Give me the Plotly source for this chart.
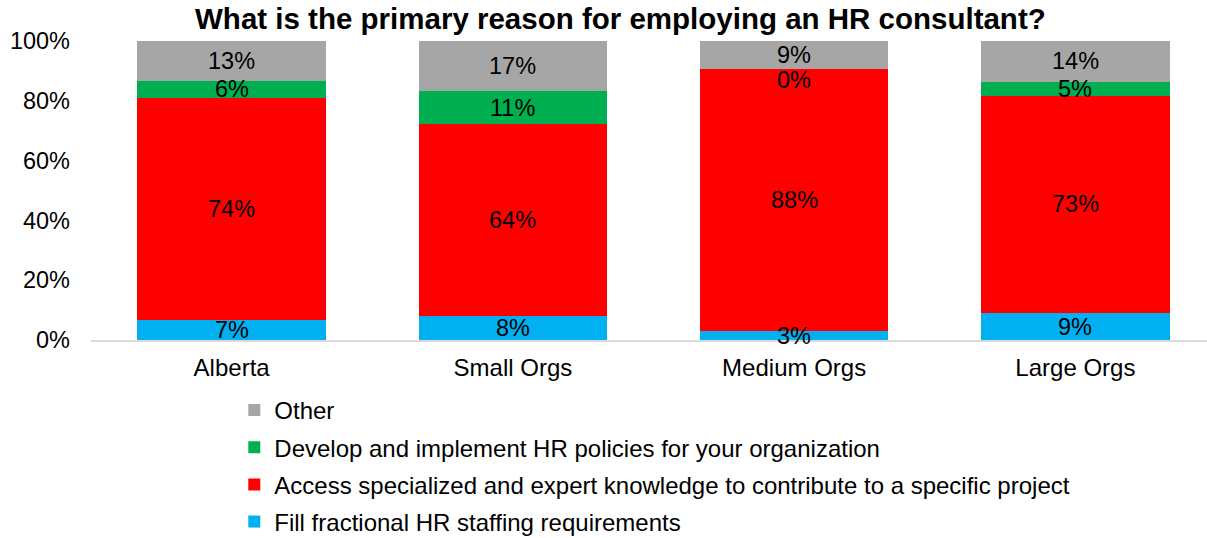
import plotly.graph_objects as go

categories = ["Alberta", "Small Orgs", "Medium Orgs", "Large Orgs"]

# Share of respondents per reason (fractions of 1), stacked bottom to top
fill_fractional = [0.066, 0.081, 0.030, 0.090]
access_expert = [0.744, 0.641, 0.876, 0.727]
develop_policies = [0.056, 0.111, 0.000, 0.047]
other = [0.134, 0.167, 0.094, 0.136]

series_names = [
    "Fill fractional HR staffing requirements",
    "Access specialized and expert knowledge to contribute to a specific project",
    "Develop and implement HR policies for your organization",
    "Other",
]
series_values = [fill_fractional, access_expert, develop_policies, other]
series_colors = ["#00B0F0", "#FF0000", "#00B050", "#A6A6A6"]

y_ticks = [0, 0.2, 0.4, 0.6, 0.8, 1.0]
y_tick_labels = ["0%", "20%", "40%", "60%", "80%", "100%"]

FONT = "Liberation Sans, Arial, sans-serif"

fig = go.Figure()
n_series = len(series_names)
for idx, (name, vals, color) in enumerate(zip(series_names, series_values, series_colors)):
    fig.add_trace(go.Bar(
        x=categories,
        y=vals,
        name=name,
        legendgroup=f"g{idx}",
        legendrank=n_series - idx,  # top of stack listed first
        marker=dict(color=color, line=dict(width=0)),
    ))

# Segment labels centred in each stacked segment
annotations = []
base = [0.0] * len(categories)
for vals in series_values:
    for i, (cat, v) in enumerate(zip(categories, vals)):
        annotations.append(dict(
            x=cat, y=base[i] + v / 2, xref="x", yref="y",
            text=f"{round(v * 100)}%", showarrow=False,
            font=dict(family=FONT, size=23.5, color="#000000"),
            yshift=-11 if v == 0 else 0,
        ))
        base[i] += v

fig.update_layout(
    width=1207, height=538,
    margin=dict(l=91, r=0, t=41, b=198),
    paper_bgcolor="white", plot_bgcolor="white",
    barmode="stack", bargap=0.33,
    title=dict(
        text="<b>What is the primary reason for employing an HR consultant?</b>",
        x=0.514, xanchor="center", y=0.966, yanchor="middle",
        font=dict(family=FONT, size=29.5, color="#000000"),
    ),
    font=dict(family=FONT, size=24, color="#000000"),
    xaxis=dict(
        range=[-0.5, 3.468], showgrid=False, zeroline=False,
        showline=True, linecolor="#D9D9D9", linewidth=1.5,
        ticks="", tickfont=dict(family=FONT, size=24, color="#000000"),
        ticklabelstandoff=5, fixedrange=True,
    ),
    yaxis=dict(
        range=[0, 1], tickvals=y_ticks, ticktext=y_tick_labels,
        showgrid=False, zeroline=False, showline=False, ticks="",
        tickfont=dict(family=FONT, size=23.5, color="#000000"),
        ticklabelstandoff=20, fixedrange=True,
    ),
    legend=dict(
        orientation="v", traceorder="grouped", tracegroupgap=3,
        xref="paper", x=0.1284, xanchor="left",
        yref="container", y=0.279, yanchor="top",
        font=dict(family=FONT, size=24, color="#000000"),
        bgcolor="rgba(0,0,0,0)", itemwidth=30,
    ),
    annotations=annotations,
    showlegend=True,
)

fig.write_html("out.html")
